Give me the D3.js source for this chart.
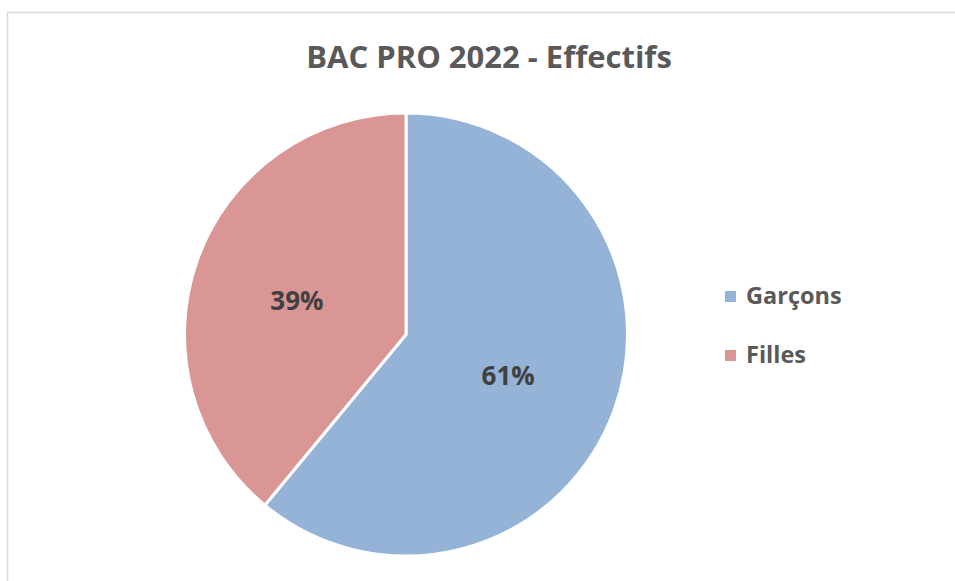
<!DOCTYPE html>
<html><head><meta charset="utf-8">
<script src="https://cdn.jsdelivr.net/npm/d3@7"></script>
<style>body{margin:0;background:#fff}svg{display:block}</style>
</head><body>
<svg id="c" width="955" height="581"></svg>
<script>
const title = "BAC PRO 2022 - Effectifs";
const categories = ["Garçons", "Filles"];
const values = [61, 39];
const colors = ["#95b3d7", "#d99694"];

const svg = d3.select("#c");
const W = 955, H = 581;
svg.append("rect").attr("x", 7.5).attr("y", 12.5).attr("width", W + 10).attr("height", H + 10)
  .attr("fill", "#fff").attr("stroke", "#d9d9d9").attr("stroke-width", 1.5);

svg.append("text").attr("x", 489).attr("y", 68).attr("text-anchor", "middle")
  .attr("font-family", "'Open Sans', 'Liberation Sans', sans-serif").attr("font-weight", "bold")
  .attr("font-size", 31).attr("fill", "#595959").text(title);

const cx = 406, cy = 334.5, r = 221.5;
const data = categories.map((c, i) => ({cat: c, val: values[i], col: colors[i]}));
const pie = d3.pie().value(d => d.val).sort(null);
const arcs = pie(data);
const arc = d3.arc().innerRadius(0).outerRadius(r);
const g = svg.append("g").attr("transform", `translate(${cx},${cy})`);
g.selectAll("path").data(arcs).join("path").attr("d", arc)
  .attr("fill", d => d.data.col).attr("stroke", "#fff").attr("stroke-width", 3).attr("stroke-linejoin", "round");

// label placement (Excel best-fit style): angle shift and radius factor per slice
const labelShift = [0.036, -0.05];
const labelRad = [0.497, 0.515];
const total = d3.sum(values);
g.selectAll("text.lbl").data(arcs).join("text").attr("class", "lbl")
  .attr("transform", (d, i) => {
    const a = (d.startAngle + d.endAngle) / 2 + labelShift[i];
    const rr = r * labelRad[i];
    return `translate(${rr * Math.sin(a)},${-rr * Math.cos(a)})`;
  })
  .attr("text-anchor", "middle").attr("dy", "0.35em")
  .attr("font-family", "'Open Sans', 'Liberation Sans', sans-serif").attr("font-weight", "bold")
  .attr("font-size", 26).attr("fill", "#404040")
  .text(d => Math.round(d.data.val / total * 100) + "%");

const leg = svg.append("g");
const ly = d3.scalePoint().domain(categories).range([296, 355]);
data.forEach(d => {
  leg.append("rect").attr("x", 725).attr("y", ly(d.cat) - 5).attr("width", 11).attr("height", 11).attr("fill", d.col);
  leg.append("text").attr("x", 746).attr("y", ly(d.cat)).attr("dy", "0.35em")
    .attr("font-family", "'Open Sans', 'Liberation Sans', sans-serif").attr("font-weight", "bold")
    .attr("font-size", 23.5).attr("fill", "#595959").text(d.cat);
});
</script>
</body></html>
